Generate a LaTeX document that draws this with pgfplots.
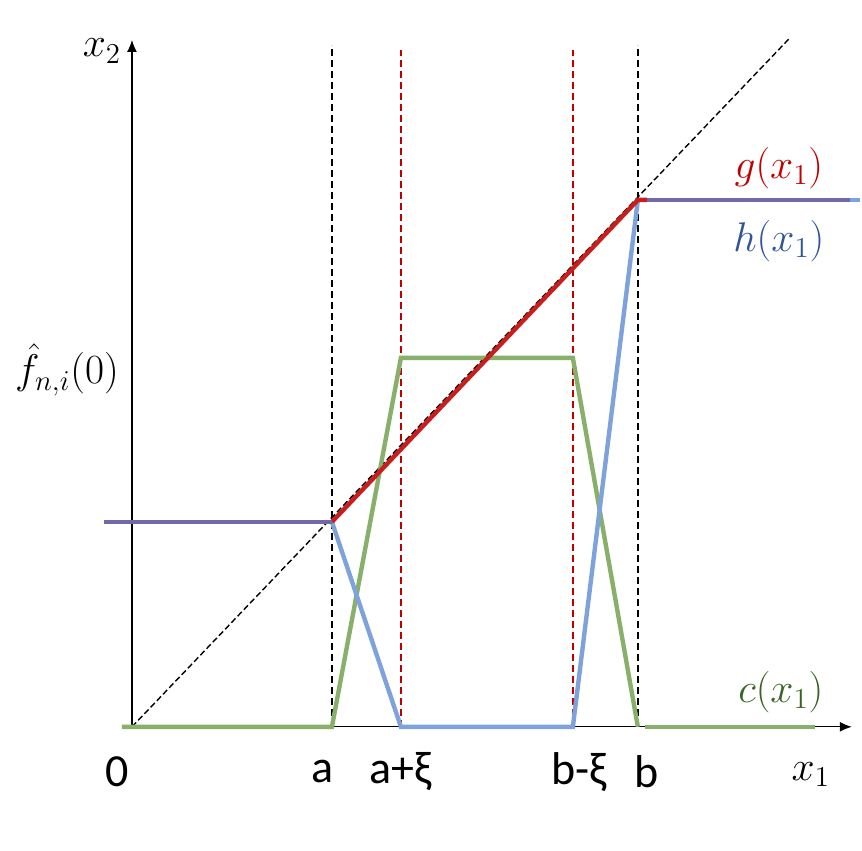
\documentclass[border=0pt]{standalone}
\usepackage{pgfplots}
\pgfplotsset{compat=1.18}
\usetikzlibrary{arrows.meta}
\usepackage{fontspec}
\setmainfont{Carlito}
\definecolor{gred}{HTML}{C81E1E}
\definecolor{gredt}{HTML}{C00000}
\definecolor{hblue}{HTML}{7EA3DC}
\definecolor{hbluet}{HTML}{2F5597}
\definecolor{cgreen}{HTML}{88B06A}
\definecolor{cgreent}{HTML}{3B6323}
\definecolor{purp}{HTML}{7068A8}
\tikzset{tl/.style={font=\fontsize{23}{27}\selectfont, inner sep=0pt},
         ml/.style={font=\fontsize{20}{24}\selectfont, inner sep=0pt}}
\begin{document}
\begin{tikzpicture}
\begin{axis}[
  width=431pt, height=425.5pt, scale only axis,
  xmin=-132, xmax=730, ymin=-124, ymax=727,
  hide axis, clip=false,
]
\path (rel axis cs:0,0) -- (rel axis cs:1,1);
% axes
\draw[black, line width=0.6pt, -{Latex[length=6pt,width=5pt]}] (axis cs:0,0) -- (axis cs:720,0);
\draw[black, line width=0.6pt, -{Latex[length=6pt,width=5pt]}] (axis cs:0,0) -- (axis cs:0,687);
% dashed guides
\addplot[black, line width=0.7pt, dash pattern=on 3.5pt off 2pt] coordinates {(200,0) (200,682)};
\addplot[black, line width=0.7pt, dash pattern=on 3.5pt off 2pt] coordinates {(506,0) (506,682)};
\addplot[gredt, line width=0.7pt, dash pattern=on 3.5pt off 2pt] coordinates {(269,0) (269,677)};
\addplot[gredt, line width=0.7pt, dash pattern=on 3.5pt off 2pt] coordinates {(441,0) (441,677)};
\addplot[black, line width=0.7pt, dash pattern=on 3pt off 1.5pt] coordinates {(0,0) (658,689)};
% c(x1)
\addplot[cgreen, line width=2.2pt] coordinates {(-10,0) (200,0) (269,369) (441,369) (506,0)};
\addplot[cgreen, line width=2.2pt] coordinates {(513,0) (683,0)};
% h(x1)
\addplot[hblue, line width=2.2pt] coordinates {(200,205) (269,0) (441,0) (506,527)};
\addplot[hblue, line width=2.2pt] coordinates {(506,527) (728,527)};
% g(x1)
\addplot[gred, line width=2.2pt] coordinates {(200,205) (506,527) (515,527)};
% overlap of g and h
\addplot[purp, line width=2.2pt] coordinates {(515,527) (718,527)};
\addplot[purp, line width=2.2pt] coordinates {(-28,205) (200,205)};
% labels
\node[tl] at (axis cs:-15,-45) {0};
\node[tl] at (axis cs:191,-45) {a};
\node[tl] at (axis cs:269,-45) {a+ξ};
\node[tl] at (axis cs:447,-45) {b-ξ};
\node[tl] at (axis cs:515,-45) {b};
\node[ml] at (axis cs:679,-48) {$x_1$};
\node[ml] at (axis cs:-30,676) {$x_2$};
\node[ml] at (axis cs:-65,357) {$\hat{f}_{n,i}(0)$};
\node[ml, text=gredt] at (axis cs:647,559) {$g(x_1)$};
\node[ml, text=hbluet] at (axis cs:647,486) {$h(x_1)$};
\node[ml, text=cgreent] at (axis cs:649,35) {$c(x_1)$};
\end{axis}
\end{tikzpicture}
\end{document}
